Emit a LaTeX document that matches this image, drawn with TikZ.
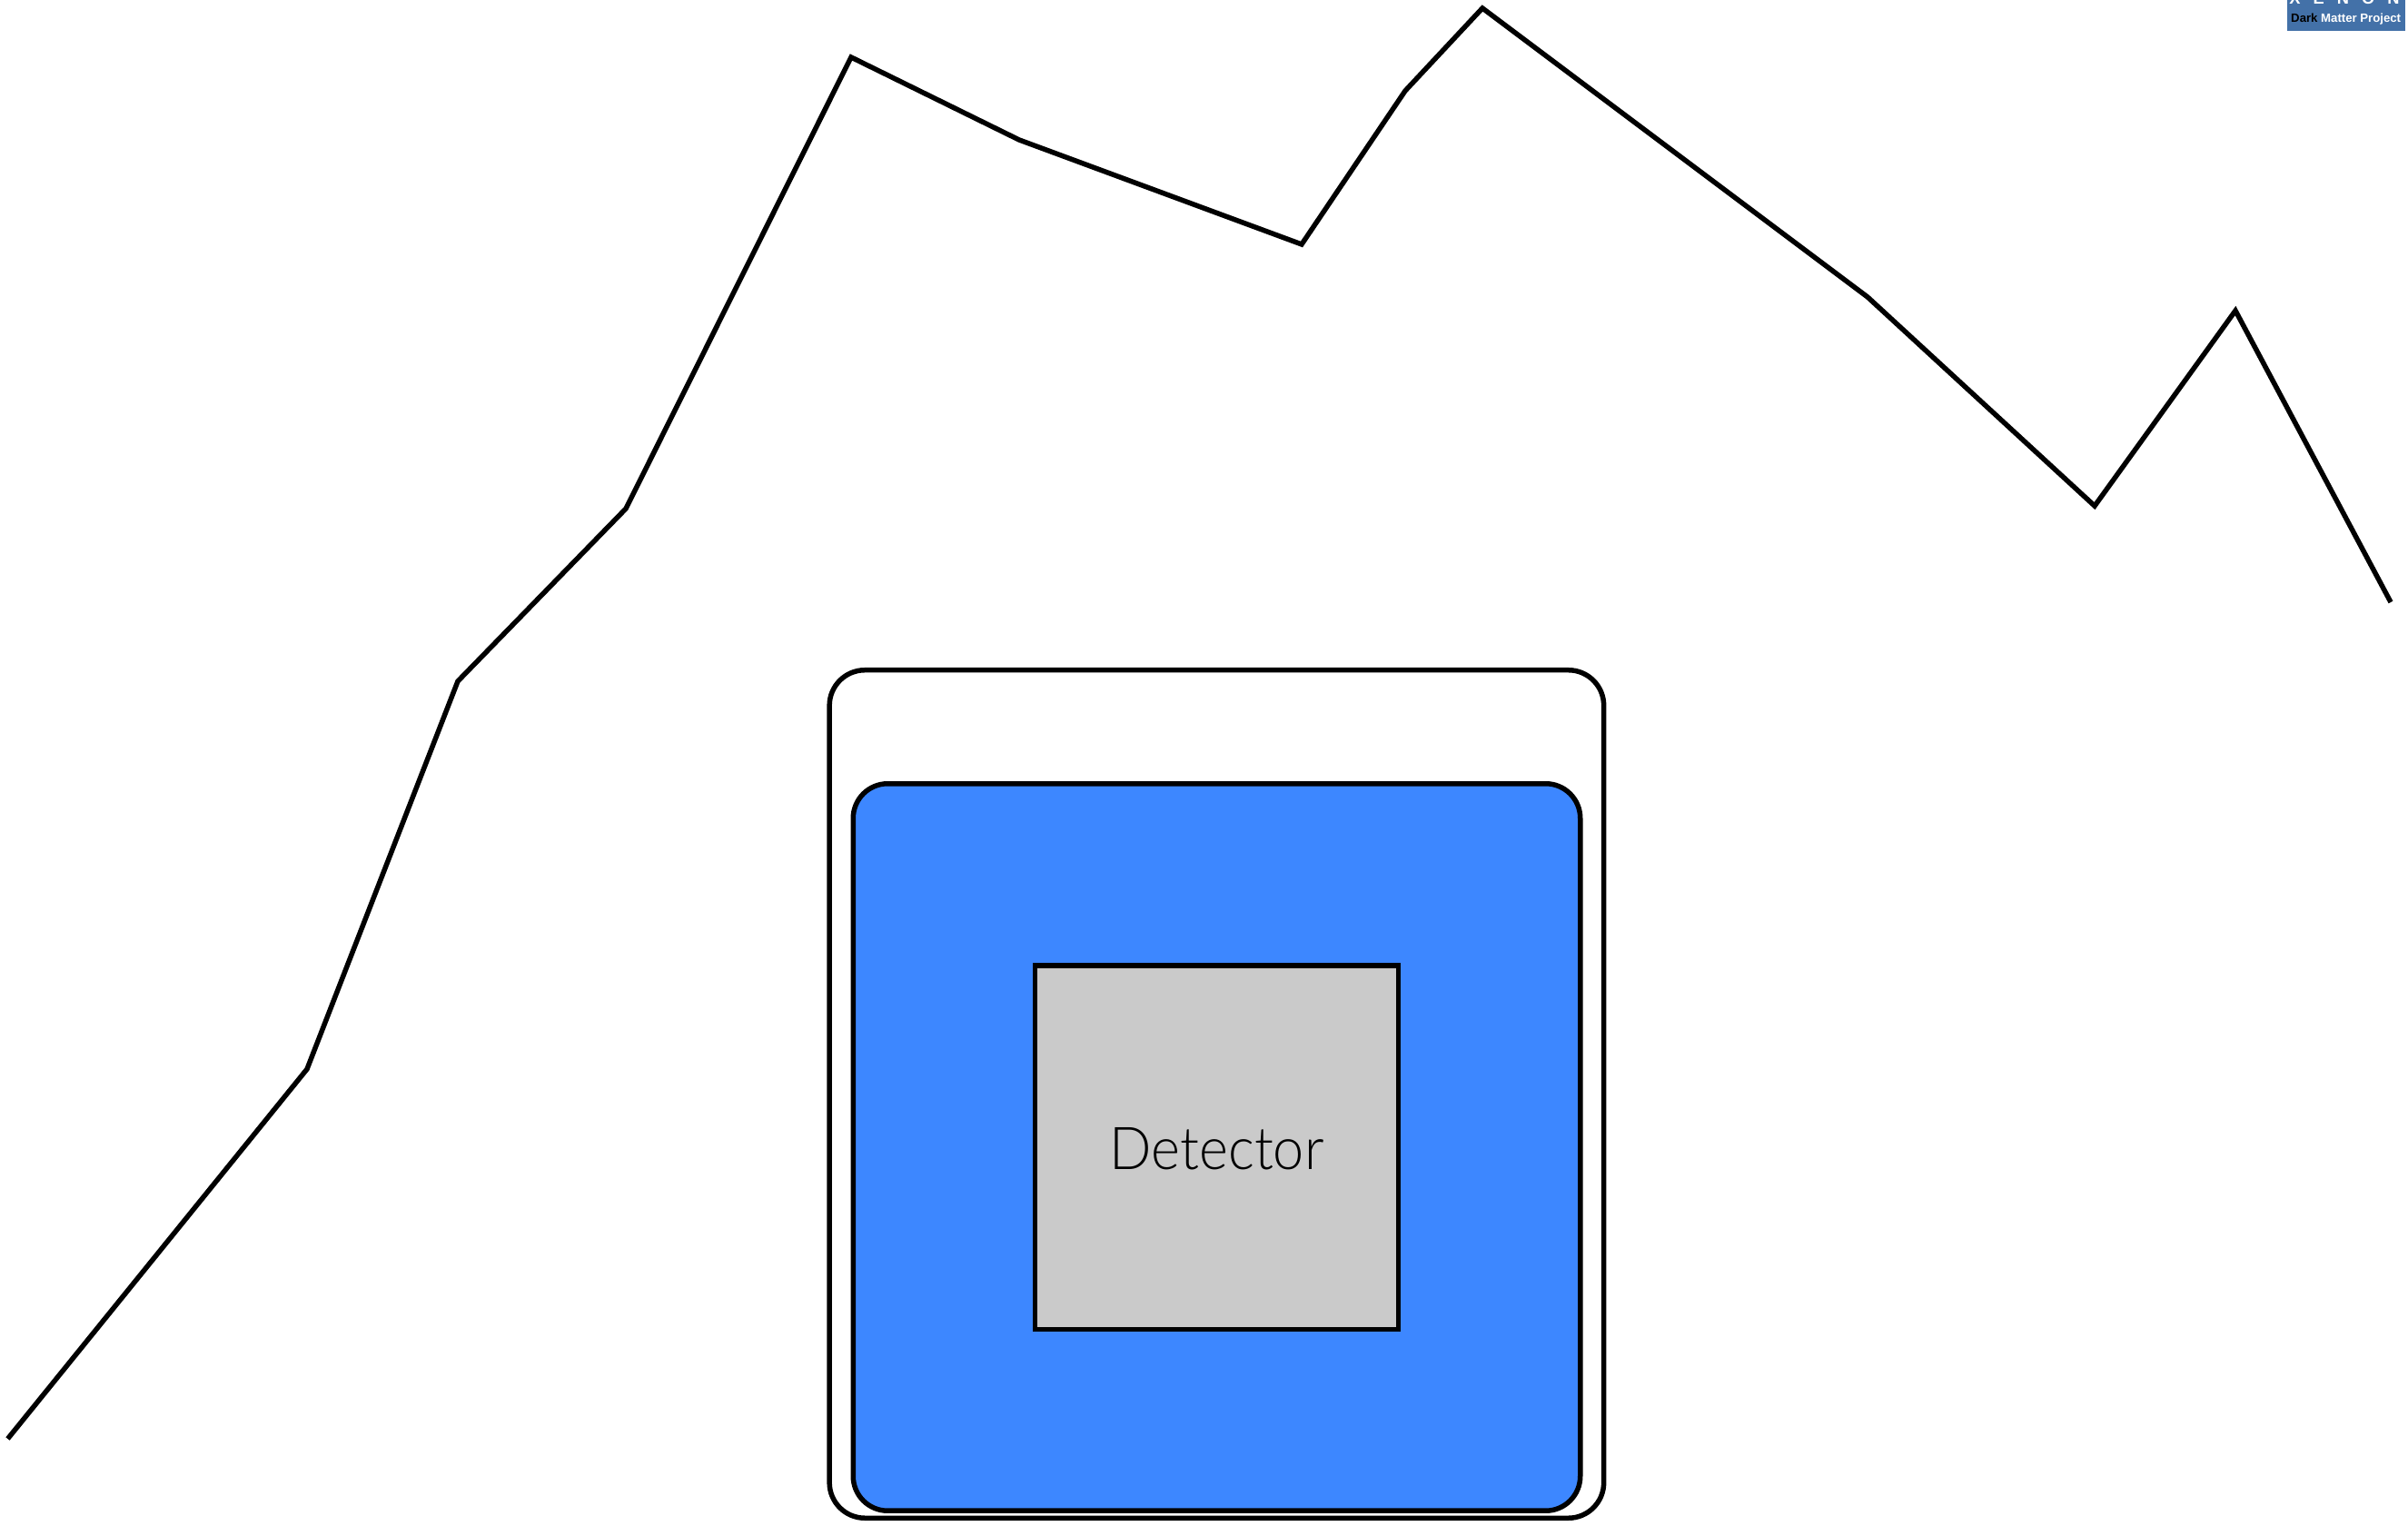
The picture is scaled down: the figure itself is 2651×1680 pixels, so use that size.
\documentclass[tikz,border=0pt]{standalone}
\usepackage{fontspec}
\setmainfont{Liberation Sans}
\newfontfamily\detfont{Lato Light}
\begin{document}
\begin{tikzpicture}[x=0.01cm,y=-0.01cm,
  outline/.style={draw=black,line width=0.055cm,line join=miter},
  vessel/.style={outline,rounded corners=0.39cm,minimum width=8.52cm,minimum height=9.33cm,inner sep=0pt},
  tank/.style={outline,rounded corners=0.38cm,fill=tankblue,minimum width=8.00cm,minimum height=8.00cm,inner sep=0pt},
  box/.style={outline,fill=detgray,minimum width=4.00cm,minimum height=4.00cm,inner sep=0pt,font=\detfont\fontsize{18.5pt}{22pt}\selectfont}
]
\definecolor{tankblue}{HTML}{3D87FF}
\definecolor{detgray}{HTML}{CACACA}
\definecolor{logoblue}{HTML}{4371A8}
\useasboundingbox (0,0) rectangle (2651,1680);
\fill[white] (0,0) rectangle (2651,1680);
\draw[line width=0.055cm,line join=miter] (8.5,1584) -- (338,1177) -- (504,750) -- (689,560) -- (937,63) -- (1122,154) -- (1433,269) -- (1547,100) -- (1632,9) -- (2056,327) -- (2306,557) -- (2461,342) -- (2632,663);
\node[vessel] (v) at (1339.4,1204.5) {};
\node[tank] (t) at (1339.5,1263) {};
\node[box] (d) at (1339.5,1263.3) {\raisebox{-7pt}[0pt][0pt]{\scalebox{0.94}[1]{Detector}}};
\fill[logoblue] (2518,0) rectangle (2648,34);
\begin{scope}
\clip (2518,0) rectangle (2648,34);
\node[white,font=\bfseries\fontsize{5.2pt}{6pt}\selectfont,anchor=base] (x) at (2581,5) {X\hspace{4pt}E\hspace{4pt}N\hspace{4pt}O\hspace{4pt}N};
\end{scope}
\node[font=\bfseries\fontsize{3.75pt}{4pt}\selectfont,anchor=base west,inner sep=0pt] (l) at (2521.5,24.5) {Dark \textcolor{white}{Matter Project}};
\end{tikzpicture}
\end{document}
